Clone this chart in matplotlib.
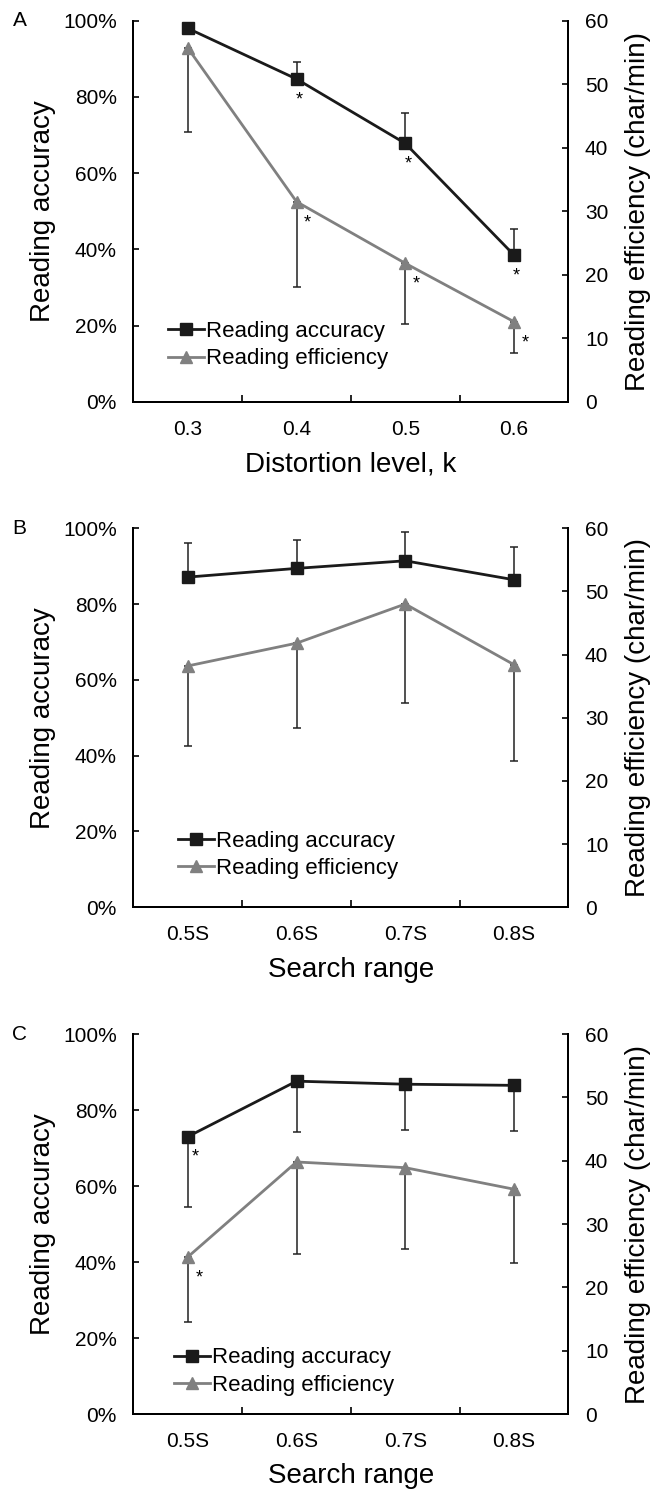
import matplotlib
matplotlib.use('Agg')
from matplotlib import pyplot as plt

plt.rcParams['font.family'] = ['Liberation Sans', 'DejaVu Sans']

# panel A: distortion level
levels_a = ['0.3', '0.4', '0.5', '0.6']
acc_a = [98.0, 84.7, 67.8, 38.5]          # [%]
acc_err_a = [0.0, 4.5, 7.9, 6.7]
eff_a = [55.7, 31.5, 21.8, 12.6]          # [char/min]
eff_err_a = [13.3, 13.5, 9.6, 4.9]
sig_acc_a = [1, 2, 3]
sig_eff_a = [1, 2, 3]

# panel B: search range
ranges_b = ['0.5S', '0.6S', '0.7S', '0.8S']
acc_b = [87.1, 89.4, 91.4, 86.4]
acc_err_b = [8.9, 7.5, 7.7, 8.6]
eff_b = [38.2, 41.8, 48.0, 38.4]
eff_err_b = [12.7, 13.5, 15.7, 15.2]
sig_acc_b = []
sig_eff_b = []

# panel C: search range
ranges_c = ['0.5S', '0.6S', '0.7S', '0.8S']
acc_c = [73.0, 87.6, 86.8, 86.5]
acc_err_c = [18.6, 13.3, 12.1, 12.1]
eff_c = [24.8, 39.8, 38.9, 35.5]
eff_err_c = [10.2, 14.6, 12.9, 11.6]
sig_acc_c = [0]
sig_eff_c = [0]

acc_color = '#1a1a1a'
eff_color = '#808080'
fs_tick = 15
fs_label = 20


def draw_panel(rect, letter, cats, acc, acc_err, acc_up, eff, eff_err,
               sig_acc, sig_eff, xlabel, leg_pos):
    ax = fig.add_axes(rect)
    ax2 = ax.twinx()
    x = list(range(len(cats)))
    zero = [0] * len(cats)

    # one-sided error bars (Excel style)
    acc_yerr = [zero, acc_err] if acc_up else [acc_err, zero]
    ax.errorbar(x, acc, yerr=acc_yerr, fmt='none', ecolor='#222222',
                elinewidth=1.1, capsize=3, capthick=1.1, zorder=1)
    ax2.errorbar(x, eff, yerr=[eff_err, zero], fmt='none', ecolor='#222222',
                 elinewidth=1.1, capsize=3, capthick=1.1, zorder=1)

    l1, = ax.plot(x, acc, color=acc_color, lw=2, marker='s', ms=8,
                  mfc=acc_color, mec=acc_color, zorder=3)
    l2, = ax2.plot(x, eff, color=eff_color, lw=2, marker='^', ms=8,
                   mfc=eff_color, mec=eff_color, zorder=3)

    # asterisks: move right of the error bar when it points down
    acc_dx = 2 if acc_up else 5.5
    for i in sig_acc:
        ax.annotate('*', (x[i], acc[i]), xytext=(acc_dx, -15), textcoords='offset points',
                    ha='center', va='center', fontsize=13)
    for i in sig_eff:
        ax2.annotate('*', (x[i], eff[i]), xytext=(8, -15), textcoords='offset points',
                     ha='center', va='center', fontsize=13)

    ax.set_xlim(-0.5, len(cats) - 0.5)
    ax.set_ylim(0, 100)
    ax2.set_ylim(0, 60)
    ax.set_yticks(range(0, 101, 20))
    ax.set_yticklabels([f'{v}%' for v in range(0, 101, 20)])
    ax2.set_yticks(range(0, 61, 10))

    # category labels centred, tick marks between categories
    ax.set_xticks([i + 0.5 for i in x[:-1]])
    ax.set_xticklabels([])
    ax.set_xticks(x, minor=True)
    ax.set_xticklabels(cats, minor=True)
    ax.tick_params(axis='x', which='major', direction='in', length=5, width=1.2)
    ax.tick_params(axis='x', which='minor', length=0, pad=13, labelsize=fs_tick)
    ax.tick_params(axis='y', direction='in', length=4, width=1.2, pad=12,
                   labelsize=fs_tick)
    ax2.tick_params(axis='y', direction='in', length=4, width=1.2, pad=12,
                    labelsize=fs_tick)

    for a in (ax, ax2):
        a.spines['top'].set_visible(False)
        for side in ('left', 'right', 'bottom'):
            a.spines[side].set_linewidth(1.4)

    ax.set_ylabel('Reading accuracy', fontsize=fs_label)
    ax2.set_ylabel('Reading efficiency (char/min)', fontsize=fs_label)
    ax.set_xlabel(xlabel, fontsize=fs_label)
    ax.yaxis.set_label_coords(-0.177, 0.5)
    ax2.yaxis.set_label_coords(1.13, 0.5)
    ax.xaxis.set_label_coords(0.5, -0.13)

    ax2.legend([l1, l2], ['Reading accuracy', 'Reading efficiency'],
               loc='lower left', bbox_to_anchor=leg_pos, frameon=False,
               fontsize=16, handlelength=1.6, handletextpad=0.1,
               labelspacing=0.3, borderpad=0, borderaxespad=0)

    fig.text(0.03, rect[1] + rect[3], letter, fontsize=fs_tick,
             ha='center', va='center')
    return ax, ax2


fig = plt.figure(figsize=(6.51, 14.90), dpi=100)

draw_panel([0.205, 0.7304, 0.668, 0.2557], 'A', levels_a, acc_a, acc_err_a, True,
           eff_a, eff_err_a, sig_acc_a, sig_eff_a, 'Distortion level, k', (0.08, 0.085))
draw_panel([0.205, 0.3911, 0.668, 0.2544], 'B', ranges_b, acc_b, acc_err_b, True,
           eff_b, eff_err_b, sig_acc_b, sig_eff_b, 'Search range', (0.103, 0.074))
draw_panel([0.205, 0.0510, 0.668, 0.2550], 'C', ranges_c, acc_c, acc_err_c, False,
           eff_c, eff_err_c, sig_acc_c, sig_eff_c, 'Search range', (0.094, 0.047))

fig.savefig('out.png', dpi=100)
